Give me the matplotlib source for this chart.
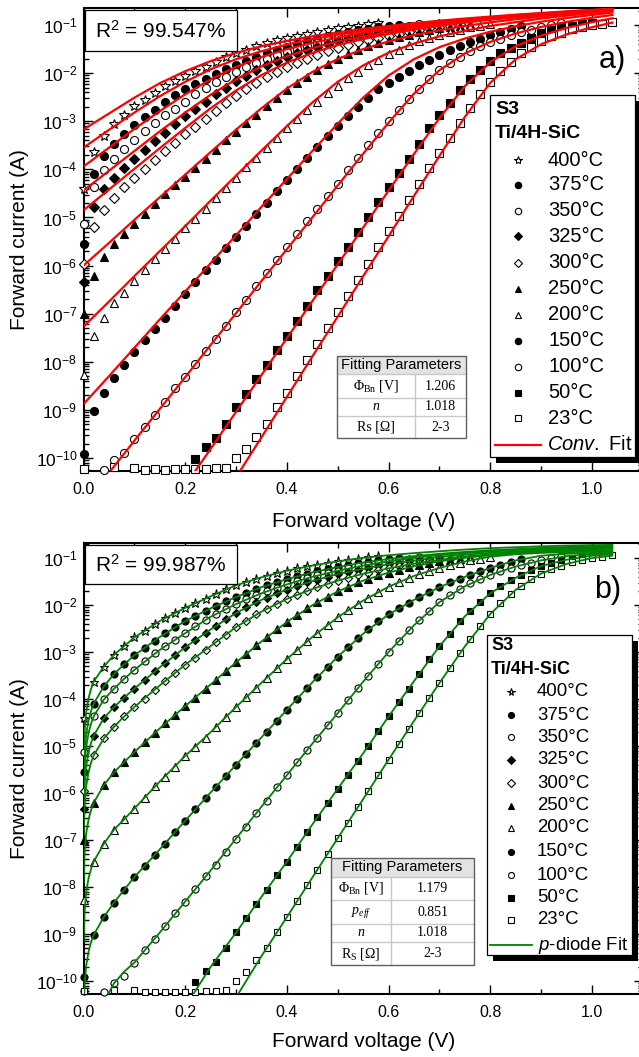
import numpy as np
import matplotlib
matplotlib.use('Agg')
import matplotlib.pyplot as plt
from matplotlib.lines import Line2D
from matplotlib.patches import Rectangle
from matplotlib.ticker import FixedLocator, LogFormatterMathtext, MultipleLocator, NullFormatter

plt.rcParams['font.family'] = ['Liberation Sans', 'DejaVu Sans']
plt.rcParams['mathtext.fontset'] = 'custom'
plt.rcParams['mathtext.rm'] = 'Liberation Sans'
plt.rcParams['mathtext.it'] = 'Liberation Sans:italic'
plt.rcParams['mathtext.bf'] = 'Liberation Sans:bold'
plt.rcParams['mathtext.default'] = 'regular'

nan = np.nan

# ---- measured I-V data, log10(I [A]) on the 0.02 V sweep grid ----
volts = np.round(np.arange(53) * 0.02, 2)

i400 = [-4.40, -3.63, -3.31, -3.06, -2.875, -2.69, -2.55, -2.41, -2.27, -2.17, -2.06, -1.95, -1.87, -1.76, -1.66,
        -1.58, -1.51, -1.44, -1.38, -1.32, -1.27, -1.22, -1.18, -1.14, -1.10, -1.07, -1.04, -1.01, -0.98, -0.96]
i375 = [-5.55, -4.10, -3.73, -3.47, -3.26, -3.07, -2.91, -2.76, -2.60, -2.46, -2.34, -2.23, -2.12, -2.02, -1.92,
        -1.83, -1.74, -1.66, -1.58, -1.51, -1.45, -1.39, -1.33, -1.28, -1.23, -1.19, -1.15, -1.11, -1.08, -1.05,
        -1.02, -0.99]
i350 = [-5.13, -4.37, -4.01, -3.78, -3.57, -3.38, -3.20, -3.03, -2.875, -2.74, -2.60, -2.44, -2.31, -2.19, -2.08,
        -1.98, -1.88, -1.79, -1.71, -1.63, -1.56, -1.49, -1.43, -1.37, -1.32, -1.27, -1.22, -1.18, -1.14, -1.10,
        -1.07, -1.04, -1.01, -0.98]
i325 = [-6.35, -4.78, -4.41, -4.17, -3.97, -3.78, -3.59, -3.41, -3.24, -3.06, -2.90, -2.74, -2.60, -2.44, -2.30,
        -2.17, -2.05, -1.94, -1.84, -1.75, -1.67, -1.59, -1.52, -1.46, -1.40, -1.34, -1.29, -1.25, -1.21, -1.17,
        -1.13, -1.10, -1.07, -1.04, -1.01, -0.98]
i300 = [-5.96, -5.20, -4.84, -4.59, -4.37, -4.17, -3.99, -3.80, -3.62, -3.45, -3.27, -3.12, -2.96, -2.79, -2.63,
        -2.47, -2.33, -2.20, -2.08, -1.97, -1.87, -1.78, -1.70, -1.62, -1.55, -1.48, -1.42, -1.36, -1.31, -1.26,
        -1.22, -1.18, -1.14, -1.10, -1.07, -1.04, -1.01, -0.98]
i250 = [-7.00, -6.21, -5.83, -5.56, -5.34, -5.13, -4.92, -4.73, -4.52, -4.33, -4.15, -3.97, -3.78, -3.60, -3.40,
        -3.22, -3.04, -2.86, -2.69, -2.52, -2.36, -2.21, -2.07, -1.94, -1.82, -1.71, -1.61, -1.52, -1.44, -1.37,
        -1.31, -1.25, -1.20, -1.15, -1.11, -1.07, -1.04, -1.01, -0.98]
i200 = [-8.27, -7.46, -7.08, -6.78, -6.56, -6.33, -6.10, -5.86, -5.65, -5.44, -5.21, -5.03, -4.82, -4.59, -4.38,
        -4.17, -3.96, -3.76, -3.55, -3.35, -3.15, -2.96, -2.77, -2.59, -2.42, -2.26, -2.11, -1.97, -1.84, -1.72,
        -1.61, -1.51, -1.42, -1.34, -1.27, -1.21, -1.15, -1.10, -1.05, -1.01, -0.97]
i150 = [-9.92, -9.02, -8.64, -8.33, -8.06, -7.79, -7.55, -7.32, -7.08, -6.83, -6.59, -6.35, -6.10, -5.88, -5.64,
        -5.40, -5.17, -4.93, -4.70, -4.46, -4.23, -3.99, -3.76, -3.53, -3.31, -3.10, -2.90, -2.70, -2.52, -2.34,
        -2.20, -2.07, -1.95, -1.83, -1.72, -1.62, -1.52, -1.44, -1.36, -1.28, -1.21, -1.14, -1.08, -1.02]
i100 = [-10.22, nan, -10.24, -10.05, -9.89, -9.61, -9.35, -9.10, -8.83, -8.55, -8.31, -8.04, -7.77, -7.53, -7.25,
        -6.97, -6.72, -6.42, -6.16, -5.88, -5.62, -5.35, -5.08, -4.82, -4.56, -4.30, -4.02, -3.76, -3.50, -3.25,
        -3.00, -2.77, -2.54, -2.32, -2.12, -1.94, -1.79, -1.66, -1.54, -1.44, -1.36, -1.28, -1.21, -1.15, -1.10,
        -1.05, -1.00, -0.96]
i50 = [nan, nan, nan, nan, nan, nan, nan, nan, nan, nan, nan, -10.03, -9.78, -9.59, -9.30,
       -8.95, -8.67, -8.36, -8.06, -7.75, -7.46, -7.15, -6.83, -6.51, -6.21, -5.91, -5.62, -5.31, -5.00, -4.68,
       -4.37, -4.07, -3.78, -3.47, -3.15, -2.875, -2.62, -2.35, -2.13, -1.94, -1.75, -1.59, -1.47, -1.37, -1.26,
       -1.17, -1.10, -1.05, -1.02, -0.98, -0.95]
i23 = [-10.22, nan, nan, -10.19, nan, -10.20, -10.24, -10.23, -10.24, -10.23, -10.23, -10.23, -10.22, -10.21, -10.20,
       -10.01, -9.81, -9.56, -9.29, -8.95, -8.64, -8.30, -7.96, -7.64, -7.30, -6.96, -6.63, -6.30, -5.96, -5.62,
       -5.29, -4.96, -4.63, -4.30, -3.98, -3.66, -3.35, -3.03, -2.72, -2.44, -2.19, -1.96, -1.76, -1.59, -1.45,
       -1.33, -1.23, -1.16, -1.09, -1.04, -1.00, -0.97, -0.94]

# ---- conventional thermionic-emission fit (panel a) ----
conv_v = [0, 0.05, 0.10, 0.15, 0.20, 0.25, 0.30, 0.35, 0.40, 0.45, 0.50, 0.55, 0.60, 0.65, 0.70, 0.75, 0.80,
          0.85, 0.90, 0.95, 1.00, 1.04]
conv400 = [-3.17, -2.84, -2.51, -2.21, -1.96, -1.75, -1.58, -1.44, -1.33, -1.235, -1.155, -1.08, -1.02, -0.96,
           -0.91, -0.865, -0.825, -0.785, -0.75, -0.715, -0.685, -0.66]
conv375 = [-3.55, -3.18, -2.82, -2.48, -2.18, -1.92, -1.71, -1.545, -1.405, -1.295, -1.20, -1.12, -1.05, -0.99,
           -0.93, -0.885, -0.84, -0.795, -0.76, -0.725, -0.69, -0.665]
conv350 = [-3.94, -3.55, -3.16, -2.79, -2.44, -2.13, -1.87, -1.665, -1.50, -1.37, -1.26, -1.165, -1.085, -1.02,
           -0.955, -0.905, -0.855, -0.81, -0.77, -0.73, -0.70, -0.67]
conv325 = [-4.44, -4.03, -3.62, -3.21, -2.82, -2.45, -2.13, -1.86, -1.645, -1.48, -1.34, -1.235, -1.14, -1.06,
           -0.99, -0.93, -0.875, -0.825, -0.78, -0.74, -0.705, -0.675]
conv300 = [-4.85, -4.42, -3.99, -3.56, -3.14, -2.73, -2.36, -2.04, -1.78, -1.58, -1.415, -1.29, -1.185, -1.095,
           -1.015, -0.95, -0.89, -0.84, -0.79, -0.75, -0.71, -0.68]
conv250 = [-6.00, -5.53, -5.05, -4.58, -4.11, -3.64, -3.175, -2.73, -2.32, -1.975, -1.705, -1.50, -1.34, -1.21,
           -1.11, -1.02, -0.945, -0.88, -0.825, -0.77, -0.725, -0.69]
conv200 = [-7.27, -6.75, -6.22, -5.70, -5.18, -4.65, -4.13, -3.61, -3.10, -2.61, -2.18, -1.84, -1.575, -1.385,
           -1.235, -1.12, -1.02, -0.94, -0.865, -0.805, -0.75, -0.71]
conv150 = [-8.88, -8.30, -7.71, -7.12, -6.54, -5.95, -5.37, -4.78, -4.20, -3.62, -3.05, -2.51, -2.05, -1.71,
           -1.46, -1.28, -1.14, -1.025, -0.93, -0.855, -0.79, -0.74]
conv100 = [-10.97, -10.31, -9.64, -8.98, -8.32, -7.65, -6.99, -6.32, -5.66, -5.00, -4.335, -3.675, -3.03, -2.425,
           -1.94, -1.59, -1.35, -1.175, -1.04, -0.935, -0.85, -0.79]
conv50 = [-13.64, -12.87, -12.11, -11.34, -10.57, -9.81, -9.04, -8.275, -7.51, -6.74, -5.975, -5.21, -4.44, -3.68,
          -2.935, -2.27, -1.77, -1.44, -1.22, -1.06, -0.94, -0.86]
conv23 = [-15.42, -14.58, -13.75, -12.91, -12.07, -11.24, -10.40, -9.57, -8.73, -7.89, -7.06, -6.22, -5.39, -4.55,
          -3.72, -2.91, -2.20, -1.71, -1.40, -1.195, -1.045, -0.95]

# ---- p-diode fit (panel b) ----
pd_v = [0.0005, 0.002, 0.005, 0.01, 0.015, 0.02, 0.04, 0.06, 0.08, 0.10, 0.15, 0.20, 0.25, 0.30, 0.35, 0.40,
        0.45, 0.50, 0.55, 0.60, 0.65, 0.70, 0.75, 0.80, 0.85, 0.90, 0.95, 1.00, 1.04]
pd400 = [-5.33, -4.72, -4.30, -3.98, -3.78, -3.63, -3.31, -3.06, -2.875, -2.69, -2.34, -2.06, -1.815, -1.58, -1.41,
         -1.27, -1.16, -1.07, -0.995, -0.94, -0.895, -0.855, -0.82, -0.79, -0.77, -0.75, -0.735, -0.725, -0.72]
pd375 = [-5.80, -5.19, -4.77, -4.45, -4.25, -4.10, -3.73, -3.47, -3.26, -3.07, -2.68, -2.34, -2.07, -1.83, -1.62,
         -1.45, -1.305, -1.19, -1.095, -1.02, -0.96, -0.91, -0.87, -0.835, -0.81, -0.785, -0.765, -0.75, -0.74]
pd350 = [-6.07, -5.46, -5.04, -4.72, -4.52, -4.37, -4.01, -3.78, -3.57, -3.38, -2.955, -2.60, -2.25, -1.98, -1.75,
         -1.56, -1.40, -1.27, -1.16, -1.07, -0.995, -0.94, -0.895, -0.86, -0.83, -0.805, -0.785, -0.77, -0.76]
pd325 = [-6.48, -5.87, -5.45, -5.13, -4.93, -4.78, -4.41, -4.17, -3.97, -3.78, -3.325, -2.90, -2.52, -2.17, -1.89,
         -1.67, -1.49, -1.34, -1.23, -1.13, -1.055, -0.98, -0.93, -0.89, -0.86, -0.83, -0.81, -0.79, -0.78]
pd300 = [-6.90, -6.29, -5.87, -5.55, -5.35, -5.20, -4.84, -4.59, -4.37, -4.17, -3.71, -3.27, -2.875, -2.47, -2.14,
         -1.87, -1.66, -1.48, -1.335, -1.22, -1.12, -1.04, -0.97, -0.92, -0.88, -0.85, -0.825, -0.81, -0.80]
pd250 = [-7.91, -7.30, -6.88, -6.56, -6.36, -6.21, -5.83, -5.56, -5.34, -5.13, -4.625, -4.15, -3.69, -3.22, -2.775,
         -2.36, -2.005, -1.71, -1.48, -1.31, -1.175, -1.07, -0.995, -0.94, -0.90, -0.87, -0.85, -0.835, -0.83]
pd200 = [-9.16, -8.55, -8.13, -7.81, -7.61, -7.46, -7.08, -6.78, -6.56, -6.33, -5.755, -5.21, -4.705, -4.17, -3.655,
         -3.15, -2.68, -2.26, -1.905, -1.61, -1.38, -1.21, -1.075, -0.97, -0.92, -0.89, -0.875, -0.865, -0.86]
pd150 = [-10.72, -10.11, -9.69, -9.37, -9.17, -9.02, -8.64, -8.33, -8.06, -7.79, -7.20, -6.59, -5.99, -5.40, -4.815,
         -4.23, -3.645, -3.10, -2.61, -2.20, -1.89, -1.62, -1.40, -1.21, -1.05, -0.95, -0.91, -0.89, -0.88]
pd100 = [-11.60, -11.50, -11.30, -11.10, -10.90, -10.75, -10.45, -10.05, -9.80, -9.61, -8.97, -8.31, -7.65, -6.97,
         -6.29, -5.62, -4.95, -4.30, -3.63, -3.00, -2.43, -1.94, -1.60, -1.36, -1.18, -1.05, -0.96, -0.92, -0.90]
pd50 = [-14.0, -13.95, -13.9, -13.8, -13.7, -13.6, -13.3, -13.0, -12.7, -12.4, -11.6, -10.55, -9.70, -8.97, -8.21,
        -7.46, -6.67, -5.91, -5.155, -4.37, -3.62, -2.875, -2.24, -1.75, -1.42, -1.17, -1.035, -0.95, -0.92]
pd23 = [-15.4, -15.35, -15.3, -15.2, -15.1, -15.0, -14.7, -14.4, -14.1, -13.75, -12.9, -12.05, -11.2, -10.35, -9.47,
        -8.64, -7.80, -6.96, -6.13, -5.29, -4.465, -3.66, -2.88, -2.19, -1.675, -1.33, -1.125, -1.00, -0.95]

temps = ['400°C', '375°C', '350°C', '325°C', '300°C', '250°C', '200°C', '150°C', '100°C', '50°C', '23°C']
data = [i400, i375, i350, i325, i300, i250, i200, i150, i100, i50, i23]
conv = [conv400, conv375, conv350, conv325, conv300, conv250, conv200, conv150, conv100, conv50, conv23]
pdiode = [pd400, pd375, pd350, pd325, pd300, pd250, pd200, pd150, pd100, pd50, pd23]
markers = ['*', 'o', 'o', 'D', 'D', '^', '^', 'o', 'o', 's', 's']
filled = [False, True, False, True, False, True, False, True, False, True, False]
msizes = [7.5, 5.8, 5.8, 5.0, 5.0, 6.2, 6.2, 5.8, 5.8, 5.2, 5.2]

decades = [10.0 ** k for k in range(-10, 0)]
minors = [m * d for d in [1e-11] + decades for m in range(2, 10)]

W, H = 639, 1057
fig = plt.figure(figsize=(W / 100, H / 100), dpi=100)


def fx(x):
    return x / W


def fy(y):
    return 1 - y / H


def rect(x0, y0, x1, y1, **kw):
    fig.add_artist(Rectangle((fx(x0), fy(y1)), (x1 - x0) / W, (y1 - y0) / H,
                             transform=fig.transFigure, **kw))


def hline(x0, x1, y, **kw):
    fig.add_artist(Line2D([fx(x0), fx(x1)], [fy(y), fy(y)], transform=fig.transFigure, **kw))


def vline(x, y0, y1, **kw):
    fig.add_artist(Line2D([fx(x), fx(x)], [fy(y0), fy(y1)], transform=fig.transFigure, **kw))


def mark(x, y, m, f, ms):
    fig.add_artist(Line2D([fx(x)], [fy(y)], transform=fig.transFigure, ls='none', marker=m, ms=ms,
                          mfc='black' if f else 'white', mec='black', mew=0.8, zorder=8))


def make_axes(top, bottom, ylo, yhi):
    left, right = 83.5, 83.5 + 1.1 * 508.5
    ax = fig.add_axes([fx(left), fy(bottom), (right - left) / W, (bottom - top) / H])
    ax.set_yscale('log')
    ax.set_xlim(0, 1.1)
    ax.set_ylim(10 ** ylo, 10 ** yhi)
    ax.xaxis.set_major_locator(MultipleLocator(0.2))
    ax.xaxis.set_minor_locator(MultipleLocator(0.1))
    ax.yaxis.set_major_locator(FixedLocator(decades))
    ax.yaxis.set_minor_locator(FixedLocator([m for m in minors if 10 ** ylo < m < 10 ** yhi]))
    ax.yaxis.set_major_formatter(LogFormatterMathtext())
    ax.yaxis.set_minor_formatter(NullFormatter())
    ax.tick_params(which='both', direction='in', top=True, right=True, width=1.0)
    ax.tick_params(which='major', length=6.5)
    ax.tick_params(which='minor', length=3.5)
    ax.tick_params(axis='x', pad=8, labelsize=11.5)
    ax.tick_params(axis='y', pad=4.5, labelsize=12.5)
    for s in ax.spines.values():
        s.set_linewidth(1.5)
    ax.set_xlabel('Forward voltage (V)', fontsize=15)
    ax.set_ylabel('Forward current (A)', fontsize=15)
    ax.xaxis.label.set_va('center')
    ax.yaxis.label.set_va('center')
    ax.yaxis.set_label_coords(-0.1144, 0.5)
    return ax


ax_a = make_axes(8, 471, -10.27, -0.646)
ax_a.xaxis.set_label_coords(0.5, -0.110)
ax_b = make_axes(543, 994, -10.277, -0.68)
ax_b.xaxis.set_label_coords(0.5, -0.1064)

for ax, fits, fv, color, lw, shrink in [(ax_a, conv, conv_v, '#ff0000', 1.6, 1.0),
                                        (ax_b, pdiode, pd_v, '#008000', 1.3, 0.88)]:
    for vals, m, f, ms in zip(data, markers, filled, msizes):
        ax.plot(volts[:len(vals)], 10.0 ** np.array(vals), ls='none', marker=m, ms=ms * shrink,
                mfc='black' if f else 'white', mec='black', mew=0.8, clip_on=False, zorder=3)
    for fit in fits:
        ax.plot(fv, 10.0 ** np.array(fit), color=color, lw=lw, zorder=4)

# R^2 boxes and panel letters
for (y0, y1, txt) in [(10, 51, 'R$^2$ = 99.547%'), (545, 584, 'R$^2$ = 99.987%')]:
    rect(85, y0, 237, y1, facecolor='white', edgecolor='black', lw=0.9, zorder=5)
    fig.text(fx(161), fy((y0 + y1) / 2), txt, fontsize=15, ha='center', va='center', zorder=6)
fig.text(fx(612), fy(60), 'a)', fontsize=22, ha='center', va='center')
fig.text(fx(608), fy(590), 'b)', fontsize=22, ha='center', va='center')


def legend(x0, y0, x1, y1, head_x, head_ys, mark_x, text_x, row_ys, line_x, fit_y, fit_label, color, lw,
           ms_scale, fs, hfs):
    rect(x0 + 6, y0 + 6, x1 + 6, y1 + 6, facecolor='black', edgecolor='none', zorder=5)
    rect(x0, y0, x1, y1, facecolor='white', edgecolor='black', lw=0.9, zorder=6)
    for txt, yy in zip(['S3', 'Ti/4H-SiC'], head_ys):
        fig.text(fx(head_x), fy(yy), txt, fontsize=hfs, weight='bold', ha='left', va='center', zorder=8)
    for t, m, f, ms, yy in zip(temps, markers, filled, msizes, row_ys):
        mark(mark_x, yy, m, f, ms * ms_scale)
        fig.text(fx(text_x), fy(yy), t, fontsize=fs, ha='left', va='center', zorder=8)
    hline(line_x[0], line_x[1], fit_y, color=color, lw=lw, zorder=8)
    fig.text(fx(line_x[1] + 6), fy(fit_y), fit_label, fontsize=fs, ha='left', va='center', zorder=8)


legend(490, 95, 635, 457, 495, [110, 134], 518, 548,
       [160, 185, 211, 236, 263, 289, 315, 341, 367, 393, 418], (495, 541), 445,
       '$\\mathit{Conv.}$ Fit', '#ff0000', 1.6, 0.8, 14.5, 14)
legend(487, 635, 632, 955, 491, [646, 669], 511, 537,
       [692, 715, 737, 760, 783, 806, 828, 852, 875, 898, 920], (490, 532), 945,
       '$\\mathit{p}$-diode Fit', '#008000', 1.3, 0.75, 13.4, 13)


def table(x0, x1, xm, ys, rows, fs_head, fs):
    rect(x0, ys[0], x1, ys[1], facecolor='#e3e3e3', edgecolor='none', zorder=5)
    rect(x0, ys[1], x1, ys[-1], facecolor='white', edgecolor='none', zorder=5)
    for yy in ys[1:-1]:
        hline(x0, x1, yy, color='#c8c8c8', lw=1.0, zorder=6)
    vline(xm, ys[1], ys[-1], color='#c8c8c8', lw=1.0, zorder=6)
    rect(x0, ys[0], x1, ys[-1], facecolor='none', edgecolor='#606060', lw=1.0, zorder=7)
    fig.text(fx((x0 + x1) / 2), fy((ys[0] + ys[1]) / 2), 'Fitting Parameters', fontsize=fs_head,
             ha='center', va='center', zorder=8)
    for (name, val, style), ya, yb in zip(rows, ys[1:-1], ys[2:]):
        yc = fy((ya + yb) / 2)
        fig.text(fx((x0 + xm) / 2), yc, name, fontsize=fs, family='Liberation Serif', style=style,
                 ha='center', va='center', zorder=8)
        fig.text(fx((xm + x1) / 2), yc, val, fontsize=fs, family='Liberation Serif',
                 ha='center', va='center', zorder=8)


table(337, 466, 415, [356, 374, 398, 416, 438],
      [('Φ$_{Bn}$ [V]', '1.206', 'normal'), ('n', '1.018', 'italic'), ('Rs [Ω]', '2-3', 'normal')],
      10.5, 10)
table(331, 474, 391, [858, 877, 900, 924, 942, 965],
      [('Φ$_{Bn}$ [V]', '1.179', 'normal'), ('p$_{eff}$', '0.851', 'italic'), ('n', '1.018', 'italic'),
       ('R$_S$ [Ω]', '2-3', 'normal')],
      10.5, 10)

fig.savefig('out.png', dpi=100)
